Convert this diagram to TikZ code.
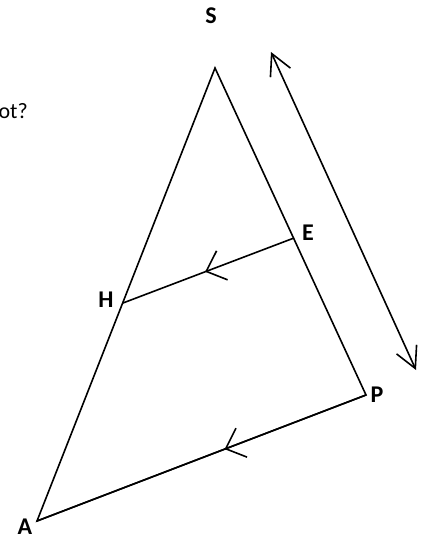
\documentclass[tikz,border=0pt]{standalone}
\usepackage{fontspec}
\setmainfont{Carlito}
\usetikzlibrary{arrows.meta,decorations.markings}

\begin{document}
\begin{tikzpicture}[
  x=1pt,y=-1pt,
  side/.style={line width=1.6pt,line join=miter},
  lbl/.style={font=\fontsize{24}{28}\selectfont\bfseries,inner sep=0pt},
  txt/.style={font=\fontsize{22}{26}\selectfont,inner sep=0pt},
  midarrow/.style={postaction={decorate},decoration={markings,
     mark=at position #1 with {\arrow{Straight Barb[length=17pt,width=31pt]}}}},
  ends/.style={line width=1.6pt,
     {Straight Barb[length=21pt,width=22pt]}-{Straight Barb[length=21pt,width=22pt]}}
]
\useasboundingbox (0,0) rectangle (427,540);
% vertices
\coordinate (S) at (215,68);
\coordinate (A) at (37,521);
\coordinate (P) at (366,395);
\coordinate (E) at (294,238);
\coordinate (H) at (123,303);
% ends of the parallel arrow
\coordinate (top) at (271,52);
\coordinate (bot) at (416,370);

\draw[side] (A) -- (S) -- (P) -- cycle;
\draw[side,midarrow=0.43] (P) -- (A);
\draw[side,midarrow=0.52] (E) -- (H);
\draw[ends] (top) -- (bot);

\node[lbl] (s) at (211,16) {S};
\node[lbl] (e) at (308,233) {E};
\node[lbl] (h) at (106,300) {H};
\node[lbl] (a) at (25,527) {A};
\node[lbl] (p) at (377,395) {P};
\node[txt,anchor=base east] (q) at (28,119) {ot?};
\end{tikzpicture}
\end{document}
